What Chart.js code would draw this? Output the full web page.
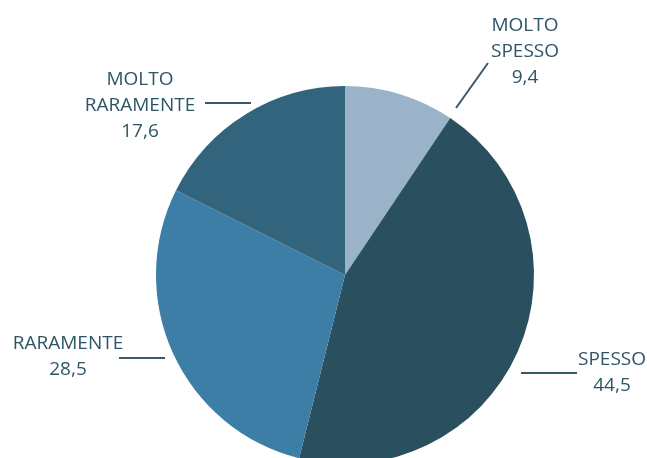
<!DOCTYPE html>
<html>
<head>
<meta charset="utf-8">
<script src="https://cdn.jsdelivr.net/npm/chart.js@4"></script>
<style>
  html, body { margin: 0; padding: 0; background: #fff; }
  #wrap { width: 647px; height: 458px; overflow: hidden; position: relative; }
  #wrap canvas { display: block; }
</style>
</head>
<body>
<div id="wrap"><canvas id="pie" width="647" height="500"></canvas></div>
<script>
// Frequenza (%)
const categories = ['MOLTO SPESSO', 'SPESSO', 'RARAMENTE', 'MOLTO RARAMENTE'];
const labelLines = [['MOLTO', 'SPESSO'], ['SPESSO'], ['RARAMENTE'], ['MOLTO', 'RARAMENTE']];
const values = [9.4, 44.5, 28.5, 17.6];
const colors = ['#9bb3c9', '#2a4f5f', '#3d7ea6', '#33647e'];

// posizione etichette rispetto al centro della torta (px)
const labelLayout = [
  { tx: 180, ty: -244, line: [143, -212, 111, -167] },
  { tx: 267, ty: 90, line: [176, 98, 232, 98] },
  { tx: -277, ty: 74, line: [-226, 83, -180, 83] },
  { tx: -205, ty: -190, line: [-140, -172, -94, -172] }
];

const TEXT_COLOR = '#2e5566';
const LINE_COLOR = '#3b5868';

const leaderLabels = {
  id: 'leaderLabels',
  afterDraw(chart) {
    const ctx = chart.ctx;
    const arcs = chart.getDatasetMeta(0).data;
    const cx = arcs[0].x, cy = arcs[0].y;
    ctx.save();
    ctx.font = '19px "Open Sans", sans-serif';
    ctx.fillStyle = TEXT_COLOR;
    ctx.strokeStyle = LINE_COLOR;
    ctx.lineWidth = 2;
    ctx.textAlign = 'center';
    ctx.textBaseline = 'alphabetic';
    labelLayout.forEach((l, i) => {
      ctx.beginPath();
      ctx.moveTo(cx + l.line[0], cy + l.line[1]);
      ctx.lineTo(cx + l.line[2], cy + l.line[3]);
      ctx.stroke();
      const lines = labelLines[i].concat([String(values[i]).replace('.', ',')]);
      lines.forEach((t, k) => ctx.fillText(t, cx + l.tx, cy + l.ty + k * 26));
    });
    ctx.restore();
  }
};

new Chart(document.getElementById('pie'), {
  type: 'pie',
  data: {
    labels: categories,
    datasets: [{ data: values, backgroundColor: colors, borderWidth: 0 }]
  },
  options: {
    responsive: false,
    animation: false,
    layout: { padding: { top: 86, left: 156, right: 113, bottom: 36 } },
    plugins: { legend: { display: false }, tooltip: { enabled: false } }
  },
  plugins: [leaderLabels]
});
</script>
</body>
</html>
